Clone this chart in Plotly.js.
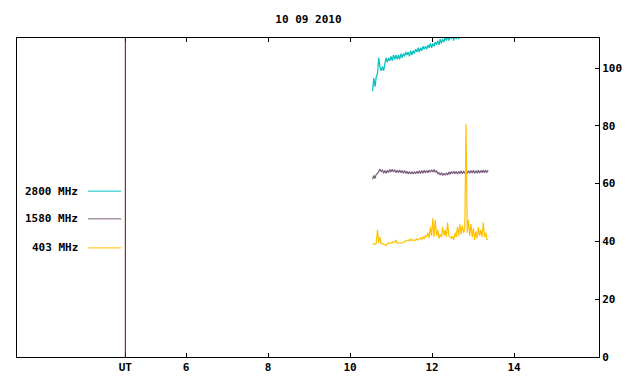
<!DOCTYPE html>
<html><head><meta charset="utf-8">
<script src="https://cdn.plot.ly/plotly-3.0.1.min.js"></script>
<style>html,body{margin:0;padding:0;background:#fff}#c{width:640px;height:384px}</style>
</head><body><div id="c"></div>
<script>
const title = "10 09 2010";
const seriesNames = ["2800 MHz", "1580 MHz", "403 MHz"];
const seriesColors = ["#00bfbf", "#7a5a7c", "#ffc000"];
const utHour = 4.52;
const xTickVals = [4.52, 6, 8, 10, 12, 14];
const xTickText = ["UT", "6", "8", "10", "12", "14"];
const yTickVals = [0, 20, 40, 60, 80, 100];

const times = [10.55,10.58,10.61,10.64,10.67,10.70,10.73,10.76,10.79,10.82,10.85,10.88,10.91,10.94,10.97,11.00,11.03,11.06,11.09,11.12,11.15,11.18,11.21,11.24,11.27,11.30,11.33,11.36,11.39,11.42,11.45,11.48,11.51,11.54,11.57,11.60,11.63,11.66,11.69,11.72,11.75,11.78,11.81,11.84,11.87,11.90,11.93,11.96,11.99,12.02,12.05,12.08,12.11,12.14,12.17,12.20,12.23,12.26,12.29,12.32,12.35,12.38,12.41,12.44,12.47,12.50,12.53,12.56,12.59,12.62,12.65,12.68,12.71,12.74,12.77,12.80,12.83,12.86,12.89,12.92,12.95,12.98,13.01,13.04,13.07,13.10,13.13,13.16,13.19,13.22,13.25,13.28,13.31,13.34,13.37];

const f2800 = [92,96.5,93.5,97,98,103.5,100.5,99,100.5,99,101.5,103.5,102,103.5,102.5,104,102.5,104.5,103,104.5,103,104.5,103,105,103.5,105,104,105.5,104.5,105.5,104,106,104.5,106,105,106.5,105.5,107,105.5,107,106,107.5,106.5,107.5,106.5,108,107,108.5,107,108.5,107.5,109,108,109.5,108,110,108.5,110,109,110.5,109.5,111,109.5,111.5,110,111.5,109.5,112,110,112,110,112.5,110.5,112.5,111,113,111,113,111,113.5,111.5,113.5,111,114,112,114,111.5,114.5,112,114.5,112.5,115,113,115,113];

const f1580 = [61.5,62.8,61.8,63.2,63.5,64.5,65,64.2,64.8,63.6,64.5,63.6,64.6,63.8,64.9,64,65,64,64.8,63.8,64.6,63.8,64.7,63.8,64.5,63.6,64.5,63.5,64.3,63.3,64.2,63.3,64.1,63.3,64.2,63.4,64.3,63.5,64.4,63.5,64.5,63.6,64.6,63.7,64.5,63.8,64.7,63.9,64.8,64,64.9,63.9,64.5,63.4,63.8,63,63.8,62.8,63.6,62.9,63.7,63,64,63.2,64.2,63.4,64.3,63.4,64.2,63.3,64.3,63.5,64.4,63.4,64.2,63.6,64.5,63.6,64.4,63.6,64.5,63.7,64.6,63.6,64.4,63.6,64.6,63.7,64.5,63.8,64.7,63.8,64.6,63.9,64.6];

const f403 = [39,39.2,39,39.3,44,39.5,41.5,39.2,39.3,39,38.8,38.6,39.2,39.5,39.3,39.6,39.5,39.8,39.7,40.5,39.4,39.4,39.3,39.4,39.5,39.6,40,40.2,40.3,40.5,40.2,40.8,40.3,40.6,40.2,40.5,40.9,40.4,40.8,41.2,40.7,41.5,41,42,41.5,43,41.2,45,42,48,41.5,47.5,42,44,41,42.5,41.5,45,42,44,41.5,46.5,42,41.5,41,41.8,40.5,43,41.5,45,42,46,42.5,45.5,43,44.5,80.5,43,47.5,42,46,41.5,44.5,40.5,43.5,41,45,42,44,41.5,46.5,41.5,43,40.8,40.5];

const ys = [f2800, f1580, f403];
const traces = ys.map((y, i) => ({
  x: times, y: y, type: "scatter", mode: "lines", name: seriesNames[i],
  line: {color: seriesColors[i], width: 1.2}, showlegend: false, hoverinfo: "skip"
}));

const FONT = "DejaVu Sans Mono, monospace";
const legendY = [0.52, 0.433, 0.342];
const shapes = [{type: "line", xref: "x", yref: "paper", x0: utHour, x1: utHour, y0: 0, y1: 1,
  line: {color: "#7a0000", width: 1}}];
const annotations = [];
seriesNames.forEach((n, i) => {
  shapes.push({type: "line", xref: "paper", yref: "paper", x0: 0.122, x1: 0.179,
    y0: legendY[i], y1: legendY[i], line: {color: seriesColors[i], width: 1}});
  annotations.push({xref: "paper", yref: "paper", x: 0.108, y: legendY[i], xanchor: "right",
    yanchor: "middle", text: n, showarrow: false, font: {family: FONT, size: 11, color: "#000", weight: "bold"}});
});

const layout = {
  width: 640, height: 384,
  margin: {l: 17, r: 41, t: 38, b: 27},
  paper_bgcolor: "#fff", plot_bgcolor: "#fff",
  title: {text: title, x: 0.482, xanchor: "center", y: 0.95, yanchor: "middle",
    font: {family: FONT, size: 11, color: "#000", weight: "bold"}},
  font: {family: FONT, size: 11, color: "#000"},
  xaxis: {range: [1.878, 16.073], tickvals: xTickVals, ticktext: xTickText,
    ticks: "inside", ticklen: 4, tickcolor: "#000", showgrid: false, zeroline: false,
    showline: true, linecolor: "#000", linewidth: 1, mirror: "allticks",
    tickfont: {family: FONT, size: 11, color: "#000", weight: "bold"}},
  yaxis: {range: [0, 110.38], tickvals: yTickVals, side: "right",
    ticks: "inside", ticklen: 4, tickcolor: "#000", showgrid: false, zeroline: false,
    showline: true, linecolor: "#000", linewidth: 1, mirror: true,
    tickfont: {family: FONT, size: 11, color: "#000", weight: "bold"}},
  shapes: shapes, annotations: annotations
};
Plotly.newPlot("c", traces, layout, {staticPlot: true, displayModeBar: false});
</script></body></html>
